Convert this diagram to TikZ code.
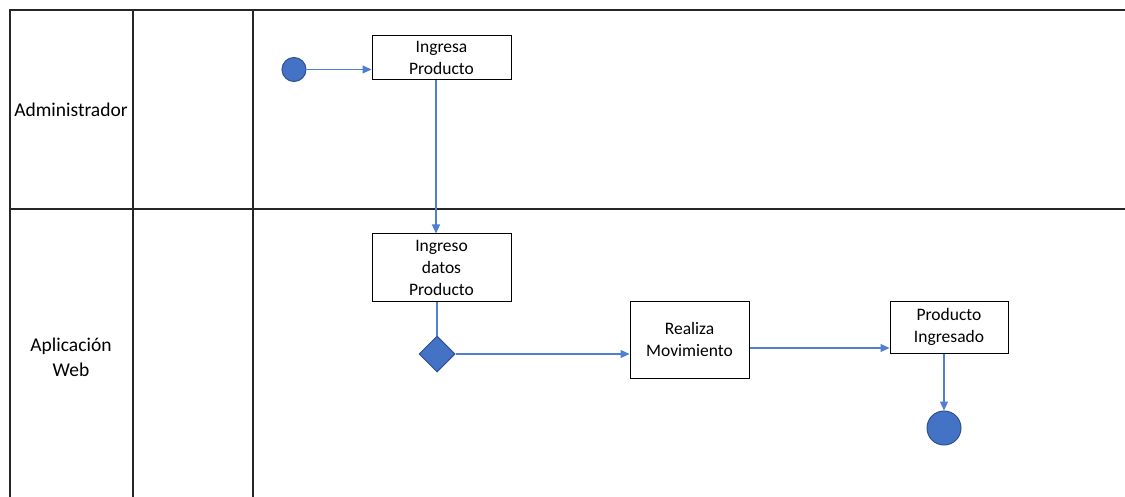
\documentclass[tikz,border=0pt]{standalone}
\usepackage{fontspec}
\setmainfont{Carlito}
\usetikzlibrary{shapes.geometric,arrows.meta}
\definecolor{flowblue}{HTML}{4472C4}
\definecolor{flowedge}{HTML}{2F528F}
\definecolor{linkblue}{HTML}{4F7FD0}
\definecolor{lanegray}{HTML}{262626}
\tikzset{
  lane/.style={draw=lanegray, line width=1.2pt},
  actbox/.style={draw=black, line width=1pt, fill=white, rectangle, inner sep=0pt,
    align=center, font=\fontsize{17.5}{22}\selectfont},
  startdot/.style={circle, fill=flowblue, draw=flowedge, line width=1pt, inner sep=0pt},
  decision/.style={diamond, fill=flowblue, draw=flowedge, line width=1pt, inner sep=0pt,
    minimum width=36pt, minimum height=36pt},
  flow/.style={draw=linkblue, line width=1.1pt, -{Triangle[length=9pt,width=8pt]}},
  plainflow/.style={draw=linkblue, line width=1.1pt},
  lanelabel/.style={align=center, font=\fontsize{19.5}{25}\selectfont}
}
\begin{document}
\begin{tikzpicture}[x=1pt,y=-1pt]
\useasboundingbox (0,0) rectangle (1125,497);
\fill[white] (0,0) rectangle (1125,497);
% swimlane grid
\draw[lane] (1125,10) -- (10,10) -- (10,497);
\draw[lane] (10,209) -- (1125,209);
\draw[lane] (133,10) -- (133,497);
\draw[lane] (253,10) -- (253,497);
% lane titles
\node[lanelabel] (admin) at (71,110) {Administrador};
\node[lanelabel] (app) at (71,357) {Aplicación\\Web};
% activity nodes
\node[startdot, minimum size=24pt] (start) at (294,69.5) {};
\node[actbox, minimum width=139pt, minimum height=44pt] (ingresa) at (441.5,58) {Ingresa\\Producto};
\node[actbox, minimum width=139pt, minimum height=67pt] (datos) at (441.5,267.5) {Ingreso\\datos\\Producto};
\node[decision] (dec) at (437,354) {};
\node[actbox, minimum width=119pt, minimum height=77pt] (mov) at (689.5,339.5) {Realiza\\Movimiento};
\node[actbox, minimum width=118pt, minimum height=52pt] (fin) at (949,327) {Producto\\Ingresado};
\node[startdot, minimum size=34pt] (end) at (944,428) {};
% connectors
\draw[flow] (start.east) -- (ingresa.west |- start.east);
\draw[flow] (ingresa.south -| 436,0) -- (datos.north -| 436,0);
\draw[plainflow] (datos.south -| dec.north) -- (dec.north);
\draw[flow] (dec.east) -- (mov.west |- dec.east);
\draw[flow] (mov.east |- 0,348) -- (fin.west |- 0,348);
\draw[flow] (fin.south -| end.north) -- (end.north);
\end{tikzpicture}
\end{document}
